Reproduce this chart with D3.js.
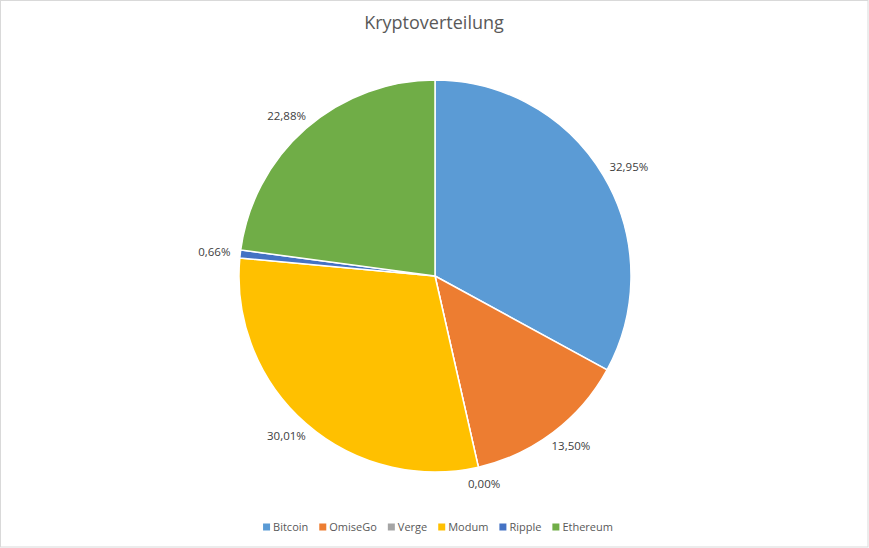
<!DOCTYPE html>
<html>
<head>
<meta charset="utf-8">
<script src="https://cdn.jsdelivr.net/npm/d3@7"></script>
<style>
  body { margin: 0; background: #fff; }
  text { font-family: "Open Sans", "Liberation Sans", sans-serif; }
</style>
</head>
<body>
<div class="chart"></div>
<script>
var coins = ["Bitcoin", "OmiseGo", "Verge", "Modum", "Ripple", "Ethereum"];
var shares = [32.95, 13.50, 0.00, 30.01, 0.66, 22.88];
var colors = ["#5B9BD5", "#ED7D31", "#A5A5A5", "#FFC000", "#4472C4", "#70AD47"];

var svgWidth = 869;
var svgHeight = 548;

var svg = d3.select(".chart")
  .append("svg")
  .attr("width", svgWidth)
  .attr("height", svgHeight);

// chart border
svg.append("rect")
  .attr("x", 0.5)
  .attr("y", 0.5)
  .attr("width", svgWidth - 1.5)
  .attr("height", svgHeight - 1.5)
  .attr("fill", "#fff")
  .attr("stroke", "#d9d9d9");

svg.append("text")
  .attr("x", 434)
  .attr("y", 29)
  .attr("text-anchor", "middle")
  .attr("font-size", "18px")
  .attr("fill", "#595959")
  .text("Kryptoverteilung");

var cx = 435, cy = 276, radius = 196;

var data = coins.map(function(c, i) { return {name: c, value: shares[i], color: colors[i]}; });

var pie = d3.pie().sort(null).value(d => d.value);
var arcs = pie(data);

var arc = d3.arc().innerRadius(0).outerRadius(radius);

var pieGroup = svg.append("g")
  .attr("transform", `translate(${cx}, ${cy})`);

pieGroup.selectAll("path")
  .data(arcs)
  .enter()
  .append("path")
  .attr("d", arc)
  .attr("fill", d => d.data.color)
  .attr("stroke", "#fff")
  .attr("stroke-width", 1.5);

// labels outside end: box edge sits a small gap away from the rim
var fmt = d3.format(".2f");
var labels = pieGroup.selectAll(".lbl")
  .data(arcs)
  .enter()
  .append("text")
  .attr("class", "lbl")
  .attr("text-anchor", "middle")
  .attr("dy", "0.35em")
  .attr("font-size", "11.5px")
  .attr("fill", "#404040")
  .text(d => fmt(d.data.value).replace(".", ",") + "%");

labels.attr("transform", function(d) {
  var a = (d.startAngle + d.endAngle) / 2;
  var ux = Math.sin(a), uy = -Math.cos(a);
  var hw = this.getComputedTextLength() / 2, hh = 7;
  var rr = radius + 10;
  return `translate(${rr * ux + hw * ux}, ${rr * uy + hh * uy})`;
});

// legend
var legend = svg.append("g");
var x = 0;
data.forEach(function(d) {
  var item = legend.append("g").attr("transform", `translate(${x}, 0)`);
  item.append("rect")
    .attr("x", 0)
    .attr("y", -3.5)
    .attr("width", 7)
    .attr("height", 7)
    .attr("fill", d.color);
  var t = item.append("text")
    .attr("x", 10)
    .attr("dy", "0.35em")
    .attr("font-size", "11px")
    .attr("fill", "#595959")
    .text(d.name);
  x += 10 + t.node().getComputedTextLength() + 11;
});
var legendWidth = x - 11;
legend.attr("transform", `translate(${438 - legendWidth / 2}, 527)`);
</script>
</body>
</html>
